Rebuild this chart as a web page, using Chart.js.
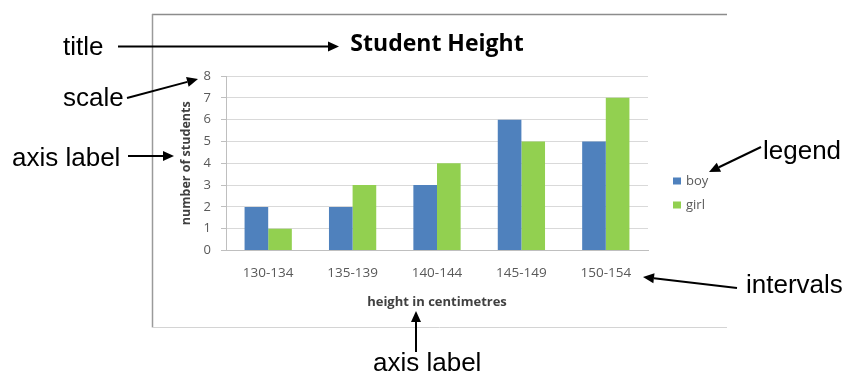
<!DOCTYPE html>
<html><head><meta charset="utf-8">
<script src="https://cdn.jsdelivr.net/npm/chart.js@4"></script>
<style>html,body{margin:0;padding:0;background:#fff;overflow:hidden}</style>
</head><body>
<canvas id="c" width="845" height="375"></canvas>
<script>
const categories = ['130-134', '135-139', '140-144', '145-149', '150-154'];
const boy = [2, 2, 3, 6, 5];
const girl = [1, 3, 4, 5, 7];
const seriesNames = ['boy', 'girl'];
const yMin = 0, yMax = 8, yStep = 1;
const chartTitle = 'Student Height';
const xTitle = 'height in centimetres';
const yTitle = 'number of students';

const FONT = "'Open Sans', sans-serif";
const ANN_FONT = "26px 'Liberation Sans', Arial, sans-serif";

function arrow(ctx, x1, y1, x2, y2) {
  const a = Math.atan2(y2 - y1, x2 - x1);
  const hl = 11, hw = 5;
  const bx = x2 - hl * Math.cos(a), by = y2 - hl * Math.sin(a);
  ctx.beginPath();
  ctx.moveTo(x1, y1);
  ctx.lineTo(bx, by);
  ctx.stroke();
  ctx.beginPath();
  ctx.moveTo(x2, y2);
  ctx.lineTo(bx + hw * Math.sin(a), by - hw * Math.cos(a));
  ctx.lineTo(bx - hw * Math.sin(a), by + hw * Math.cos(a));
  ctx.closePath();
  ctx.fill();
}

const overlay = {
  id: 'overlay',
  beforeDraw(chart) {
    const ctx = chart.ctx;
    ctx.save();
    ctx.fillStyle = '#fff';
    ctx.fillRect(0, 0, chart.width, chart.height);
    ctx.lineWidth = 1.5;
    ctx.strokeStyle = '#8c8c8c';
    ctx.beginPath(); ctx.moveTo(152, 14.5); ctx.lineTo(727, 14.5); ctx.stroke();
    ctx.strokeStyle = '#9a9a9a';
    ctx.beginPath(); ctx.moveTo(152.5, 14); ctx.lineTo(152.5, 327.5); ctx.stroke();
    ctx.lineWidth = 1;
    ctx.strokeStyle = '#d4d4d4';
    ctx.beginPath(); ctx.moveTo(152, 327.5); ctx.lineTo(727, 327.5); ctx.stroke();
    ctx.restore();
  },
  afterDraw(chart) {
    const ctx = chart.ctx;
    ctx.save();
    // legend
    chart.data.datasets.forEach((ds, i) => {
      const y = 181 + i * 24;
      ctx.fillStyle = ds.backgroundColor;
      ctx.fillRect(673, y - 3.5, 8, 7);
      ctx.fillStyle = '#595959';
      ctx.font = "13px " + FONT;
      ctx.textBaseline = 'middle';
      ctx.textAlign = 'left';
      ctx.fillText(ds.label, 686, y);
    });
    // annotations
    ctx.fillStyle = '#000';
    ctx.strokeStyle = '#000';
    ctx.lineWidth = 2;
    ctx.font = ANN_FONT;
    ctx.textBaseline = 'alphabetic';
    ctx.textAlign = 'left';
    ctx.fillText('title', 63, 55);
    ctx.fillText('scale', 63, 106);
    ctx.fillText('axis label', 12, 166);
    ctx.fillText('legend', 763, 159);
    ctx.fillText('intervals', 746, 293);
    ctx.fillText('axis label', 373, 371);
    arrow(ctx, 118, 46.5, 339, 46.5);
    arrow(ctx, 127, 98, 198, 79);
    arrow(ctx, 128, 156, 174, 156);
    arrow(ctx, 761, 147, 709, 172);
    arrow(ctx, 737, 288, 643, 277);
    arrow(ctx, 416, 352, 416, 311);
    ctx.restore();
  }
};

Chart.defaults.font.family = FONT;

new Chart(document.getElementById('c'), {
  type: 'bar',
  data: {
    labels: categories,
    datasets: [
      { label: seriesNames[0], data: boy, backgroundColor: '#4f81bd' },
      { label: seriesNames[1], data: girl, backgroundColor: '#92d050' }
    ]
  },
  plugins: [overlay],
  options: {
    responsive: false,
    animation: false,
    devicePixelRatio: 1,
    layout: { padding: { left: 170, right: 197, top: 30.2, bottom: 64.5 } },
    datasets: { bar: { barPercentage: 1, categoryPercentage: 0.56, borderWidth: 0 } },
    plugins: {
      legend: { display: false },
      tooltip: { enabled: false },
      title: {
        display: true, text: chartTitle, color: '#000', fullSize: false,
        font: { size: 23, weight: 'bold', family: FONT },
        padding: { top: 0, bottom: 18.2 }
      }
    },
    scales: {
      x: {
        grid: { display: false, drawTicks: false },
        border: { color: '#bfbfbf' },
        ticks: { color: '#595959', font: { size: 13.5 }, padding: 15 },
        title: {
          display: true, text: xTitle, color: '#404040',
          font: { size: 13, weight: 'bold' }, padding: { top: 0, bottom: 0.5 }
        },
        afterFit(s) { s.height = 60; }
      },
      y: {
        min: yMin, max: yMax,
        ticks: { stepSize: yStep, color: '#595959', font: { size: 13 }, padding: 10 },
        grid: { color: '#d9d9d9', tickLength: 5, tickColor: '#bfbfbf' },
        border: { color: '#bfbfbf' },
        title: {
          display: true, text: yTitle, color: '#404040',
          font: { size: 12.5, weight: 'bold' }, padding: { top: 9, bottom: 0 }
        },
        afterFit(s) { s.width = 56; }
      }
    }
  }
});
</script>
</body></html>
